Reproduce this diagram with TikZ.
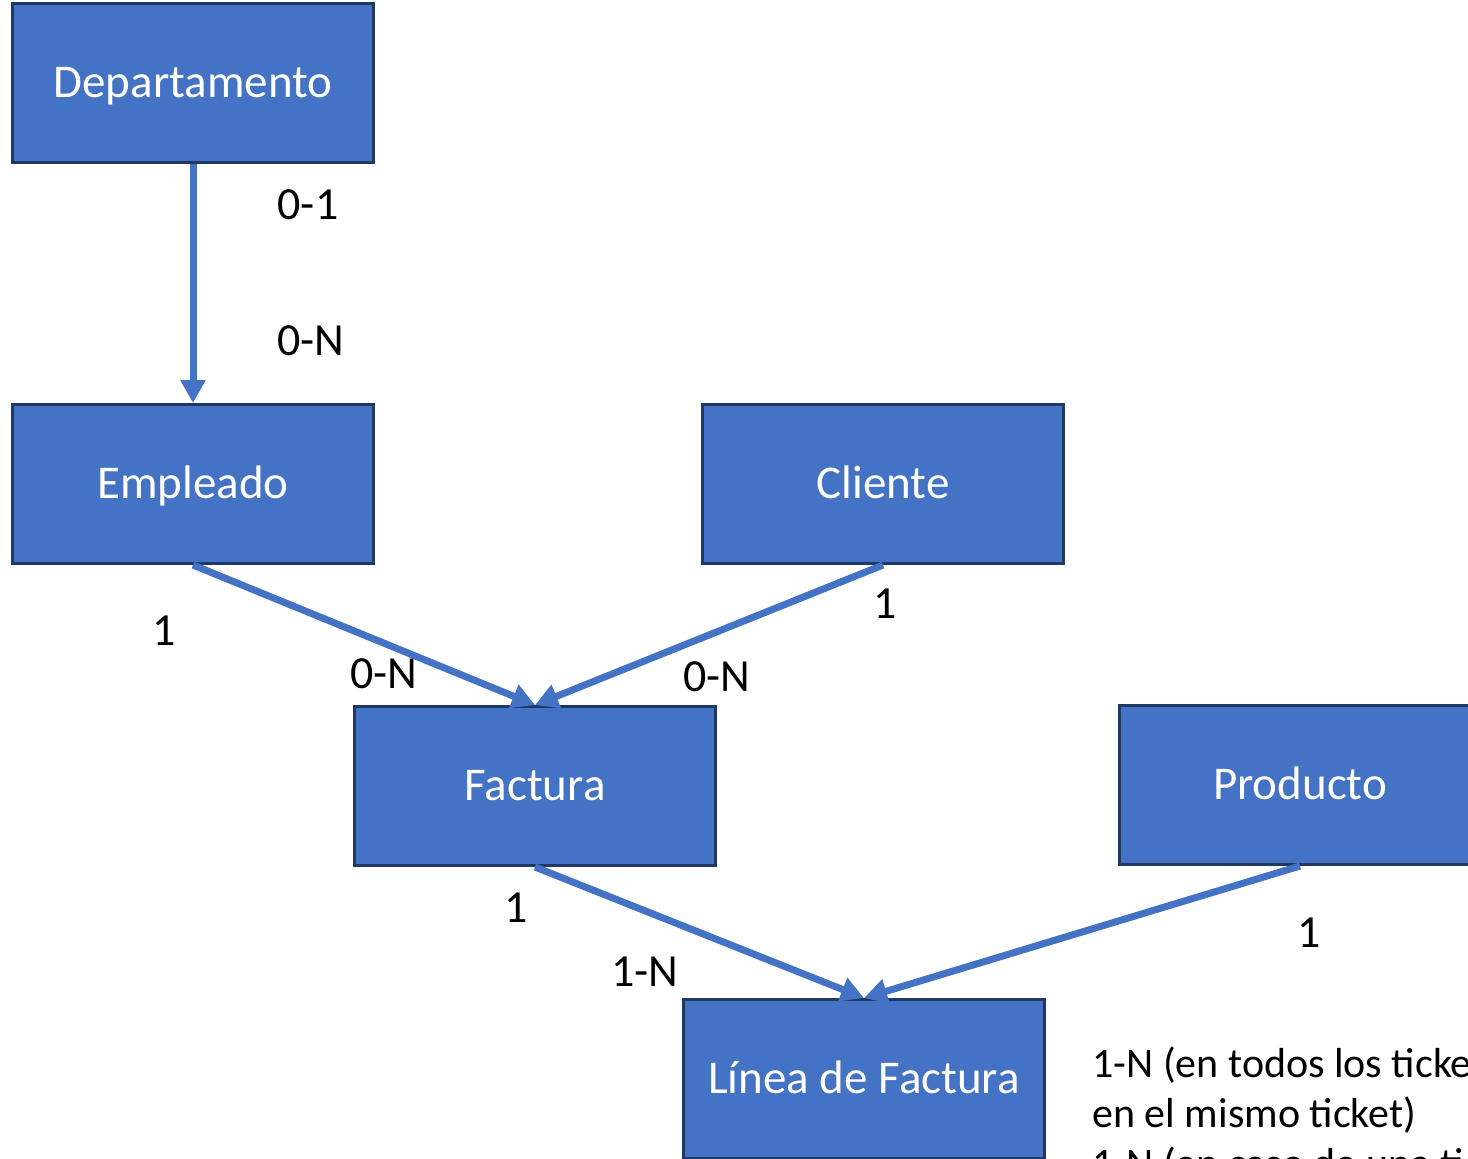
\documentclass[tikz,border=0pt]{standalone}
\usepackage{fontspec}
\setmainfont{Carlito}
\usepackage{xcolor}
\usepackage{tikz}
\usetikzlibrary{arrows.meta,positioning}
\definecolor{entfill}{RGB}{68,114,196}
\definecolor{entline}{RGB}{32,56,100}

\begin{document}
\begin{tikzpicture}[
  x=0.5pt,y=-0.5pt,
  entity/.style={draw=entline,line width=1.5pt,fill=entfill,text=white,minimum width=180.5pt,minimum height=79.5pt,text height=14.5pt,text depth=0pt,font=\fontsize{23.5}{28}\selectfont},
  card/.style={inner sep=0pt,font=\fontsize{23}{27}\selectfont},
  arr/.style={-{Triangle[length=11.5pt,width=12pt]},line width=3.5pt,entfill},
]
\useasboundingbox (0,0) rectangle (1468,1158);
\clip (0,0) rectangle (1468,1158);
\node[entity] (dep) at (193,83) {Departamento};
\node[entity,below=119.5pt of dep] (emp) {Empleado};
\node[entity,right=163pt of emp] (cli) {Cliente};
\node[entity] (fac) at (535,786) {Factura};
\node[entity] (prod) at (1300,785) {Producto};
\node[entity] (lin) at (864,1079) {Línea de Factura};
% relaciones
\draw[arr] (dep.south) -- (emp.north);
\draw[arr] (emp.south) -- (fac.north);
\draw[arr] (cli.south) -- (fac.north);
\draw[arr] (fac.south) -- (lin.north);
\draw[arr] (prod.south) -- (lin.north);
% cardinalidades
\node[card] (c1) at (308,205) {0-1};
\node[card] (c2) at (311,341) {0-N};
\node[card] (c3) at (164,631) {1};
\node[card] (c4) at (384,674) {0-N};
\node[card] (c5) at (885,604) {1};
\node[card] (c6) at (717,677) {0-N};
\node[card] (c7) at (516,908) {1};
\node[card] (c8) at (645,972) {1-N};
\node[card] (c9) at (1309,933) {1};
\node[inner sep=0pt,anchor=base west,align=left,font=\fontsize{21}{25}\selectfont] (nota) at (1092,1177)
  {1-N (en todos los tickets,\\en el mismo ticket)\\1-N (en caso de una tienda)};
\end{tikzpicture}
\end{document}
